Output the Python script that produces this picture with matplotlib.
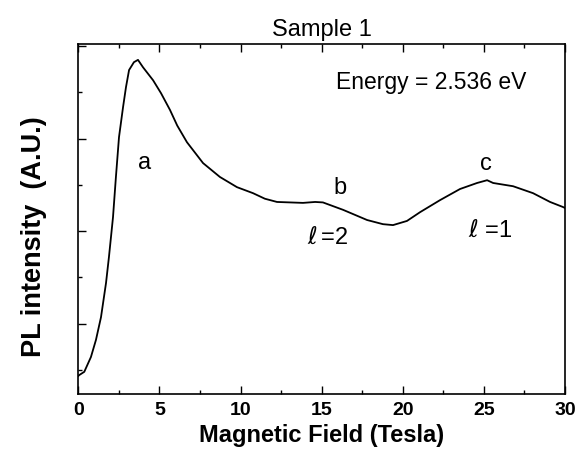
import matplotlib
matplotlib.use('Agg')
import matplotlib.pyplot as plt
from matplotlib.ticker import MultipleLocator

plt.rcParams['font.family'] = ['Liberation Sans', 'DejaVu Sans']
plt.rcParams['mathtext.fontset'] = 'dejavusans'

# Magnetic field (Tesla) and PL intensity (arbitrary units)
field = [0.0, 0.06, 0.37, 0.78, 1.09, 1.40, 1.71, 1.89, 2.14, 2.32, 2.51, 2.76,
         2.94, 3.13, 3.43, 3.68, 3.99, 4.61, 5.10, 5.65, 6.10, 6.70, 7.69,
         8.73, 9.78, 10.77, 11.50, 12.25, 13.85, 14.60, 15.08, 16.32, 17.80,
         18.78, 19.40, 20.26, 21.07, 22.30, 23.53, 24.58, 25.20, 25.57, 26.80,
         28.03, 29.08, 29.88, 30.0]
intensity = [0.87, 0.89, 0.96, 1.28, 1.65, 2.14, 2.88, 3.44, 4.30, 5.17, 6.03, 6.68,
             7.11, 7.48, 7.65, 7.70, 7.54, 7.26, 6.98, 6.62, 6.28, 5.92, 5.47,
             5.17, 4.95, 4.82, 4.70, 4.63, 4.61, 4.63, 4.62, 4.46, 4.24,
             4.15, 4.13, 4.22, 4.41, 4.67, 4.91, 5.04, 5.10, 5.04, 4.97,
             4.82, 4.63, 4.52, 4.50]

peak_labels = ['a', 'b', 'c']
peak_pos = [(4.11, 5.47), (16.14, 4.93), (25.12, 5.45)]
level_labels = [r'$\ell\,$=2', r'$\ell$ =1']
level_pos = [(15.39, 3.85), (25.38, 4.0)]

fig = plt.figure(figsize=(5.76, 4.55), dpi=100)
ax = fig.add_axes([0.1359, 0.134, 0.8450, 0.769])

ax.plot(field, intensity, color='black', linewidth=1.3)

ax.set_xlim(0, 30)
ax.set_ylim(0.48, 8.04)
ax.xaxis.set_major_locator(MultipleLocator(5))
ax.xaxis.set_minor_locator(MultipleLocator(2.5))
ax.yaxis.set_major_locator(MultipleLocator(2))
ax.yaxis.set_minor_locator(MultipleLocator(1))
ax.tick_params(which='both', direction='in', top=True, right=False, width=1)
ax.tick_params(which='major', length=6)
ax.tick_params(which='minor', length=3)
ax.tick_params(axis='y', labelleft=False)
ax.tick_params(axis='x', pad=6)
for lab in ax.get_xticklabels():
    lab.set_fontweight('bold')
    lab.set_fontsize(14)
for sp in ax.spines.values():
    sp.set_linewidth(1.2)

ax.set_xlabel('Magnetic Field (Tesla)', fontsize=17, fontweight='bold', labelpad=3)
ax.set_ylabel('PL intensity  (A.U.)', fontsize=19.5, fontweight='bold')
ax.yaxis.set_label_coords(-0.064, 0.449)
ax.set_title('Sample 1', fontsize=17, pad=6)

for lab, (x, y) in zip(peak_labels, peak_pos):
    ax.text(x, y, lab, fontsize=17, ha='center', va='center')
for lab, (x, y) in zip(level_labels, level_pos):
    ax.text(x, y, lab, fontsize=17, ha='center', va='center')
ax.text(0.726, 0.891, 'Energy = 2.536 eV', transform=ax.transAxes,
        fontsize=16.5, ha='center', va='center')

fig.savefig('out.png', dpi=100)
